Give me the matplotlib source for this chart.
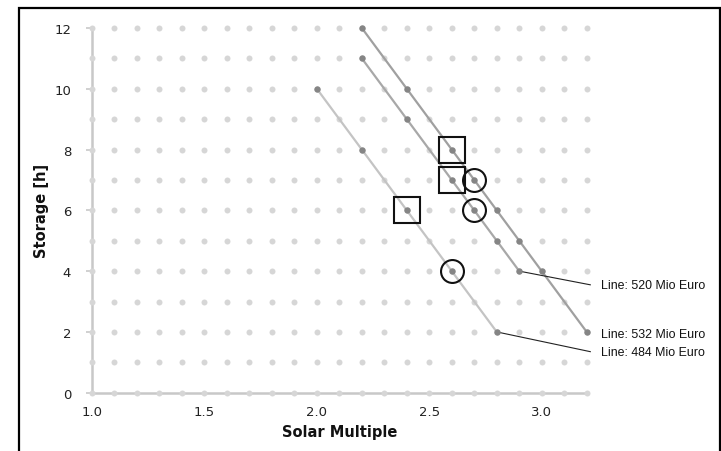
import numpy as np
import matplotlib
matplotlib.use("Agg")
import matplotlib.pyplot as plt
from matplotlib.patches import Rectangle

# ---- data ----
grid_x = [round(1.0 + 0.1 * i, 1) for i in range(23)]
grid_y = list(range(0, 13))

line532_x = [2.2, 2.4, 2.6, 2.7, 2.8, 2.9, 3.0, 3.2]
line532_y = [12, 10, 8, 7, 6, 5, 4, 2]
line520_x = [2.2, 2.4, 2.6, 2.7, 2.8, 2.9]
line520_y = [11, 9, 7, 6, 5, 4]
line484_x = [2.0, 2.2, 2.4, 2.6, 2.8]
line484_y = [10, 8, 6, 4, 2]

square_x = [2.6, 2.6, 2.4]
square_y = [8, 7, 6]
circle_x = [2.7, 2.7, 2.6]
circle_y = [7, 6, 4]

labels = ["Line: 520 Mio Euro", "Line: 532 Mio Euro", "Line: 484 Mio Euro"]
label_y = [3.55, 1.93, 1.35]
x_ticks = [1.0, 1.5, 2.0, 2.5, 3.0]
x_tick_labels = ["1.0", "1.5", "2.0", "2.5", "3.0"]
y_ticks = [0, 2, 4, 6, 8, 10, 12]

W, H = 721, 452
fig = plt.figure(figsize=(W / 100, H / 100), dpi=100)
ax_l, ax_r, ax_t, ax_b = 92, 586.7, 29, 393.7
ax = fig.add_axes([ax_l / W, 1 - ax_b / H, (ax_r - ax_l) / W, (ax_b - ax_t) / H])
ax.set_xlim(1.0, 3.2)
ax.set_ylim(0, 12)

GX, GY = np.meshgrid(grid_x, grid_y)
ax.plot(GX.ravel(), GY.ravel(), 'o', ms=4.3, color='#d6d6d6', mec='none',
        clip_on=False, zorder=3)

ax.plot(line484_x, line484_y, '-', color='#c4c4c4', lw=1.6, zorder=4, clip_on=False)
ax.plot(line520_x, line520_y, '-', color='#a8a8a8', lw=1.6, zorder=4, clip_on=False)
ax.plot(line532_x, line532_y, '-', color='#a0a0a0', lw=1.6, zorder=4, clip_on=False)
for xs, ys in [(line484_x, line484_y), (line520_x, line520_y), (line532_x, line532_y)]:
    ax.plot(xs, ys, 'o', ms=4.6, color='#858585', mec='none', zorder=5, clip_on=False)

ax.plot(square_x, square_y, 's', ms=19, mfc='none', mec='#111111', mew=1.5,
        zorder=6, clip_on=False)
ax.plot(circle_x, circle_y, 'o', ms=16.5, mfc='none', mec='#111111', mew=1.5,
        zorder=6, clip_on=False)

# annotations
lab_x = 3.265
lead_x = 3.216
ax.plot([line520_x[-1], lead_x], [line520_y[-1], label_y[0]], '-', color='#222222',
        lw=0.8, zorder=4, clip_on=False)
ax.plot([line484_x[-1], lead_x], [line484_y[-1], label_y[2]], '-', color='#222222',
        lw=0.8, zorder=4, clip_on=False)
for t, yy in zip(labels, label_y):
    ax.text(lab_x, yy, t, fontsize=8.9, family='Liberation Sans', va='center',
            ha='left', color='#111111', clip_on=False)

for s in ['top', 'right']:
    ax.spines[s].set_visible(False)
for s in ['left', 'bottom']:
    ax.spines[s].set_color('#c8c8c8')
    ax.spines[s].set_linewidth(1.8)
    ax.spines[s].set_zorder(2)

ax.set_xticks(x_ticks)
ax.set_xticklabels(x_tick_labels)
ax.set_yticks(y_ticks)
ax.tick_params(axis='y', length=4, width=1.2, color='#c8c8c8', pad=11,
               labelsize=9.5, labelcolor='#222222')
ax.tick_params(axis='x', length=0, pad=9, labelsize=9.5, labelcolor='#222222')
for lab in ax.get_xticklabels() + ax.get_yticklabels():
    lab.set_family('DejaVu Sans')

ax.set_xlabel('Solar Multiple', fontsize=10.5, fontweight='bold', family='DejaVu Sans',
              labelpad=4, color='#111111')
ax.set_ylabel('Storage [h]', fontsize=10.5, fontweight='bold', family='DejaVu Sans',
              labelpad=4, color='#111111')

# outer frame
fig.patches.append(Rectangle((19 / W, -0.05), (720 - 19) / W, 1 - 8.5 / H + 0.05,
                             transform=fig.transFigure, fill=False, ec='black', lw=1.6))

fig.savefig('out.png', dpi=100)
